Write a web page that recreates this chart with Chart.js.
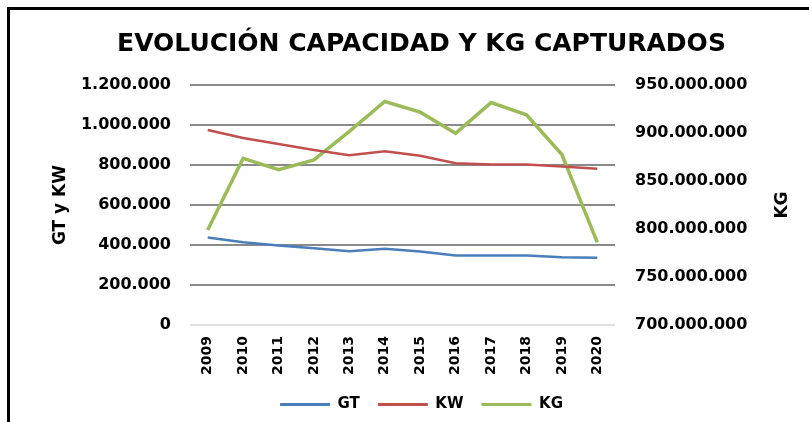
<!DOCTYPE html>
<html>
<head>
<meta charset="utf-8">
<script src="https://cdn.jsdelivr.net/npm/chart.js@4"></script>
<style>
    html, body { margin: 0; padding: 0; background: #fff; }
    #wrap { position: absolute; left: 0; top: 0; width: 809px; height: 422px; }
    #frame { position: absolute; left: 7px; top: 7px; width: 802px; height: 415px;
             border-top: 3px solid #000; border-left: 3px solid #000; box-sizing: border-box; pointer-events: none; }
</style>
</head>
<body>
<div id="wrap">
    <canvas id="chart" width="809" height="422"></canvas>
    <div id="frame"></div>
</div>
<script>
// 年份
const years = ['2009', '2010', '2011', '2012', '2013', '2014', '2015', '2016', '2017', '2018', '2019', '2020'];

// GT y KW (eje izquierdo)
const gtValues = [438000, 414000, 397000, 384000, 369000, 381000, 367000, 348000, 348000, 347000, 339000, 336000];
const kwValues = [975000, 935000, 905000, 875000, 849000, 869000, 846000, 809000, 803000, 803000, 793000, 781000];

// KG capturados (eje derecho)
const kgValues = [799000000, 873500000, 861700000, 872000000, 901700000, 932800000, 921700000, 899700000, 931700000, 919000000, 877600000, 786000000];

const seriesNames = ['GT', 'KW', 'KG'];
const seriesColors = ['#4a7ebb', '#c0504d', '#9bbb59'];

// 1.200.000 style
function fmt(v) {
    return String(Math.round(v)).replace(/\B(?=(\d{3})+(?!\d))/g, '.');
}

const FONT = 'DejaVu Sans';

// right axis title, rotated to read upwards like the left one
const rightTitle = {
    id: 'rightTitle',
    afterDraw(chart) {
        const s = chart.scales.y2;
        const c = chart.ctx;
        c.save();
        c.translate(s.right - 14, (chart.chartArea.top + chart.chartArea.bottom) / 2);
        c.rotate(-Math.PI / 2);
        c.font = 'bold 17px "' + FONT + '"';
        c.fillStyle = '#000';
        c.textAlign = 'center';
        c.textBaseline = 'middle';
        c.fillText('KG', 0, 0);
        c.restore();
    }
};

new Chart(document.getElementById('chart').getContext('2d'), {
    type: 'line',
    data: {
        labels: years,
        datasets: [
            { label: seriesNames[0], data: gtValues, yAxisID: 'y', borderColor: seriesColors[0], backgroundColor: seriesColors[0], borderWidth: 2.5 },
            { label: seriesNames[1], data: kwValues, yAxisID: 'y', borderColor: seriesColors[1], backgroundColor: seriesColors[1], borderWidth: 2.5 },
            { label: seriesNames[2], data: kgValues, yAxisID: 'y2', borderColor: seriesColors[2], backgroundColor: seriesColors[2], borderWidth: 3.5 }
        ]
    },
    options: {
        responsive: false,
        animation: false,
        elements: { point: { radius: 0 }, line: { tension: 0 } },
        layout: { padding: { left: 46, right: 12, top: 8, bottom: 0 } },
        scales: {
            x: {
                offset: true,
                grid: { display: false, drawTicks: false },
                border: { display: false },
                ticks: {
                    minRotation: 90, maxRotation: 90, padding: 11,
                    color: '#000', font: { family: FONT, size: 14, weight: 'bold' }
                },
                afterFit: scale => { scale.height = 54; }
            },
            y: {
                position: 'left',
                min: 0, max: 1200000,
                ticks: {
                    stepSize: 200000, padding: 19, color: '#000',
                    font: { family: FONT, size: 16, weight: 'bold' },
                    callback: v => fmt(v)
                },
                grid: {
                    drawTicks: false, lineWidth: 2,
                    color: ctx => ctx.tick && ctx.tick.value === 0 ? '#e0e0e0' : '#8a8a8a'
                },
                border: { display: false },
                title: { display: true, text: 'GT y KW', color: '#000', font: { family: FONT, size: 17, weight: 'bold' } },
                afterFit: scale => { scale.width = 144; }
            },
            y2: {
                position: 'right',
                min: 700000000, max: 950000000,
                ticks: {
                    stepSize: 50000000, padding: 20, color: '#000',
                    font: { family: FONT, size: 16, weight: 'bold' },
                    callback: v => fmt(v)
                },
                grid: { drawOnChartArea: false, drawTicks: false },
                border: { display: false },
                afterFit: scale => { scale.width = 182; }
            }
        },
        plugins: {
            title: {
                display: true,
                text: 'EVOLUCIÓN CAPACIDAD Y KG CAPTURADOS',
                color: '#000',
                font: { family: FONT, size: 25, weight: 'bold' },
                padding: { top: 21, bottom: 26 }
            },
            legend: {
                position: 'bottom',
                labels: {
                    boxWidth: 50, boxHeight: 3, padding: 18, color: '#000',
                    font: { family: FONT, size: 15, weight: 'bold' },
                    generateLabels: chart => Chart.defaults.plugins.legend.labels.generateLabels(chart)
                        .map(item => Object.assign(item, { lineWidth: 0, fillStyle: item.strokeStyle }))
                }
            },
            tooltip: { enabled: false }
        }
    },
    plugins: [rightTitle]
});
</script>
</body>
</html>
